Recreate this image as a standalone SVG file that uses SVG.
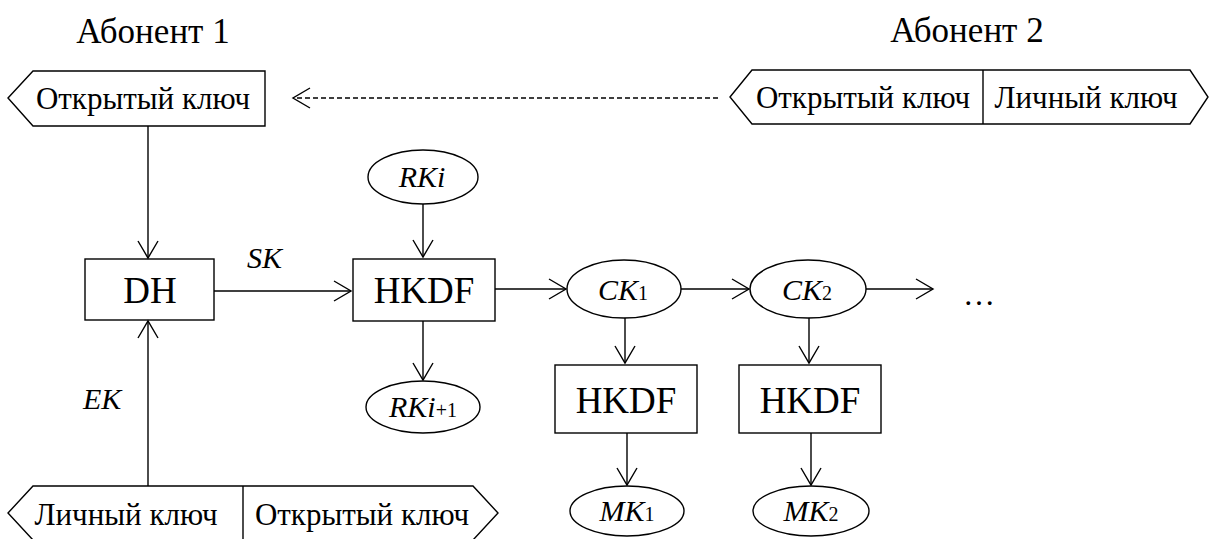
<svg xmlns="http://www.w3.org/2000/svg" width="1209" height="539" viewBox="0 0 1209 539">
<style>
.s{fill:#fff;stroke:#000;stroke-width:1.4}
.c{stroke:#000;stroke-width:1.4;fill:none}
.i{font-style:italic}
text{font-family:'Liberation Serif','Times New Roman',serif;fill:#000}
</style>
<defs>
<marker id="a" viewBox="-19 -12 21 24" markerWidth="21" markerHeight="24" refX="0" refY="0" orient="auto" markerUnits="userSpaceOnUse">
<path d="M-17,-10 L0,0 L-17,10" fill="none" stroke="#000" stroke-width="1.4"/>
</marker>
</defs>
<rect width="1209" height="539" fill="#fff"/>
<g id="titles">
<text x="153" y="43" font-size="35" text-anchor="middle">Абонент 1</text>
<text x="967" y="42" font-size="35" text-anchor="middle">Абонент 2</text>
</g>
<g id="pub1">
<polygon class="s" points="8,98 33,71 265,71 265,126 33,126"/>
<text x="143" y="109" font-size="31" text-anchor="middle">Открытый ключ</text>
</g>
<g id="keys2">
<polygon class="s" points="730,97 752,70 1190,70 1208,97 1190,124 752,124"/>
<line class="s" x1="983" y1="70" x2="983" y2="124"/>
<text x="863" y="108" font-size="31" text-anchor="middle">Открытый ключ</text>
<text x="1086" y="108" font-size="31" text-anchor="middle">Личный ключ</text>
</g>
<g id="keys1">
<polygon class="s" points="8,513 33,486 473,486 498,513 473,540 33,540"/>
<line class="s" x1="243" y1="486" x2="243" y2="540"/>
<text x="126" y="525" font-size="31" text-anchor="middle">Личный ключ</text>
<text x="362" y="525" font-size="31" text-anchor="middle">Открытый ключ</text>
</g>
<g id="dh">
<rect class="s" x="85" y="259" width="129" height="61"/>
<text x="150" y="303" font-size="37" text-anchor="middle">DH</text>
</g>
<g id="hkdf0">
<rect class="s" x="353" y="259" width="142" height="62"/>
<text x="424" y="303" font-size="37" text-anchor="middle">HKDF</text>
</g>
<g id="rki">
<ellipse class="s" cx="423" cy="177" rx="55" ry="27"/>
<text class="i" x="422" y="187" font-size="30" text-anchor="middle">RKi</text>
</g>
<g id="rki1">
<ellipse class="s" cx="423" cy="407" rx="57" ry="26"/>
<text x="423" y="417" font-size="30" text-anchor="middle"><tspan class="i">RKi</tspan><tspan font-size="20">+1</tspan></text>
</g>
<g id="ck1">
<ellipse class="s" cx="624" cy="289" rx="57" ry="29"/>
<text x="623" y="300" font-size="30" text-anchor="middle"><tspan class="i">CK</tspan><tspan font-size="20">1</tspan></text>
</g>
<g id="ck2">
<ellipse class="s" cx="808" cy="289" rx="58" ry="29"/>
<text x="807" y="300" font-size="30" text-anchor="middle"><tspan class="i">CK</tspan><tspan font-size="20">2</tspan></text>
</g>
<g id="hkdf1">
<rect class="s" x="555" y="365" width="142" height="68"/>
<text x="626" y="413" font-size="37" text-anchor="middle">HKDF</text>
</g>
<g id="hkdf2">
<rect class="s" x="739" y="365" width="142" height="68"/>
<text x="810" y="413" font-size="37" text-anchor="middle">HKDF</text>
</g>
<g id="mk1">
<ellipse class="s" cx="627" cy="511" rx="57" ry="25"/>
<text x="627" y="521" font-size="30" text-anchor="middle"><tspan class="i">MK</tspan><tspan font-size="20">1</tspan></text>
</g>
<g id="mk2">
<ellipse class="s" cx="811" cy="511" rx="58" ry="25"/>
<text x="811" y="521" font-size="30" text-anchor="middle"><tspan class="i">MK</tspan><tspan font-size="20">2</tspan></text>
</g>
<g id="labels">
<text class="i" x="247" y="268" font-size="30">SK</text>
<text class="i" x="83" y="409" font-size="30">EK</text>
<text x="963" y="305" font-size="32">…</text>
</g>
<g id="connectors">
<line class="c" x1="718" y1="98" x2="293" y2="98" stroke-dasharray="5 3" marker-end="url(#a)"/>
<line class="c" x1="148" y1="126" x2="148" y2="258" marker-end="url(#a)"/>
<line class="c" x1="148" y1="486" x2="148" y2="321" marker-end="url(#a)"/>
<line class="c" x1="214" y1="291" x2="351" y2="291" marker-end="url(#a)"/>
<line class="c" x1="423" y1="204" x2="423" y2="257" marker-end="url(#a)"/>
<line class="c" x1="423" y1="321" x2="423" y2="380" marker-end="url(#a)"/>
<line class="c" x1="495" y1="289" x2="566" y2="289" marker-end="url(#a)"/>
<line class="c" x1="681" y1="289" x2="749" y2="289" marker-end="url(#a)"/>
<line class="c" x1="866" y1="289" x2="933" y2="289" marker-end="url(#a)"/>
<line class="c" x1="625" y1="318" x2="625" y2="363" marker-end="url(#a)"/>
<line class="c" x1="809" y1="318" x2="809" y2="363" marker-end="url(#a)"/>
<line class="c" x1="627" y1="433" x2="627" y2="485" marker-end="url(#a)"/>
<line class="c" x1="811" y1="433" x2="811" y2="485" marker-end="url(#a)"/>
</g>
</svg>
